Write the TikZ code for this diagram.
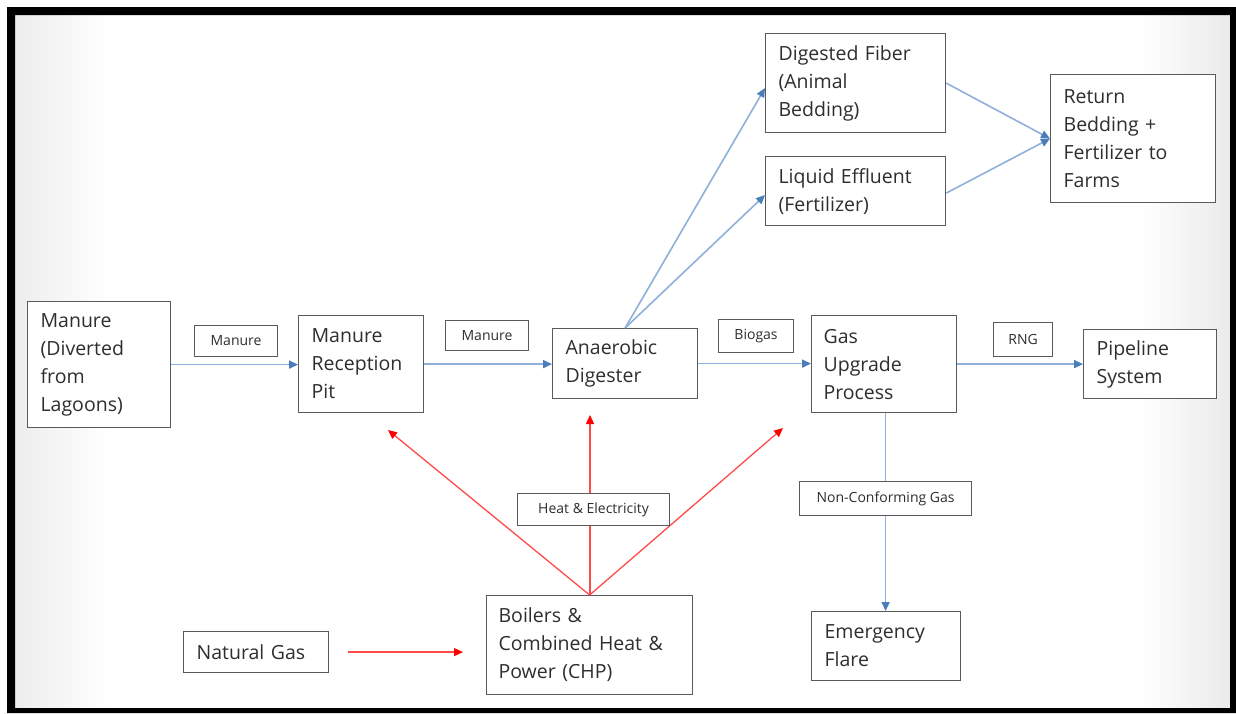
\documentclass[tikz,border=0pt]{standalone}
\usepackage{fontspec}
\setmainfont{Open Sans}
\usetikzlibrary{arrows.meta,calc}
\definecolor{bline}{HTML}{8FB0DA}
\definecolor{bhead}{HTML}{4A7EBB}
\definecolor{rline}{HTML}{FF4A4A}
\definecolor{boxline}{HTML}{5A5A5A}
\definecolor{txt}{HTML}{2E2E2E}
\tikzset{
  box/.style={draw=boxline, line width=1.2pt, fill=white, align=left, inner xsep=13pt, inner ysep=0pt,
    anchor=north west, text=txt, font=\fontsize{19.5}{28}\selectfont},
  lbl/.style={draw=boxline, line width=1.1pt, fill=white, align=center, inner sep=0pt,
    anchor=north west, text=txt, font=\fontsize{14}{17}\selectfont},
  barrow/.style={draw=bline, line width=1.6pt, -{Triangle[length=9pt,width=8pt,color=bhead]}},
  rarrow/.style={draw=rline, line width=1.3pt, -{Triangle[length=9pt,width=8pt,color=red]}}
}
\begin{document}
\begin{tikzpicture}[x=1pt,y=-1pt]
\useasboundingbox (0,0) rectangle (1236,713);
\fill[white] (0,0) rectangle (1236,713);
\shade[left color=black!7, right color=white] (15,15) rectangle (110,708);
\shade[left color=white, right color=black!8] (1140,15) rectangle (1230,708);
\fill[black, even odd rule] (7,7) rectangle (1236,713) (15,15) rectangle (1230,708);

% main boxes
\node[box, minimum height=126pt, text width=117pt] (src) at (27,301) {Manure\\(Diverted\\from\\Lagoons)};
\node[box, minimum height=97pt, text width=99pt] (pit) at (298,315) {Manure\\Reception\\Pit};
\node[box, minimum height=70pt, text width=119pt] (dig) at (552,328) {Anaerobic\\Digester};
\node[box, minimum height=97pt, inner xsep=12pt, text width=121pt] (gup) at (811,315) {Gas\\Upgrade\\Process};
\node[box, minimum height=69pt, text width=107pt] (pipe) at (1083,329) {Pipeline\\System};
\node[box, minimum height=99pt, text width=154pt] (fiber) at (765,33) {Digested Fiber\\(Animal\\Bedding)};
\node[box, minimum height=69pt, text width=154pt] (liq) at (765,156) {Liquid Effluent\\(Fertilizer)};
\node[box, minimum height=128pt, text width=139pt] (ret) at (1050,74) {Return\\Bedding +\\Fertilizer to\\Farms};
\node[box, minimum height=99pt, text width=182pt, inner xsep=12pt] (boil) at (486,595) {Boilers \&\\Combined Heat \&\\Power (CHP)};
\node[box, minimum height=41pt, text width=119pt] (ng) at (183,631) {Natural Gas};
\node[box, minimum height=69pt, text width=123pt] (flare) at (811,611) {Emergency\\Flare};

% red connectors
\coordinate (t1) at (388,430);
\coordinate (t2) at (590,415);
\coordinate (t3) at (783,428);
\draw[rarrow] (boil.north) -- (t1);
\draw[rarrow] (boil.north) -- (t3);
\draw[rarrow] (boil.north -| t2) -- (t2);
\draw[rarrow, shorten <=19pt, shorten >=23pt] (ng.east) -- (ng.east -| boil.west);

% blue connectors
\draw[barrow] (src.east) -- (src.east -| pit.west);
\draw[barrow] (pit.east) -- (pit.east -| dig.west);
\draw[barrow] (dig.east) -- (dig.east -| gup.west);
\draw[barrow] (gup.east) -- (gup.east -| pipe.west);
\draw[barrow] (dig.north) -- ($(fiber.west)+(0,5)$);
\draw[barrow] (dig.north) -- ($(liq.west)+(0,4)$);
\draw[barrow] (fiber.east) -- (ret.west);
\draw[barrow] ($(liq.east)+(0,2)$) -- (ret.west);
\draw[barrow] ($(gup.south)+(1.5,0)$) -- ($(flare.north)+(-0.5,0)$);

% labels
\node[lbl, minimum width=83pt, minimum height=31pt] (l1) at (194,325) {Manure};
\node[lbl, minimum width=83pt, minimum height=30pt] (l2) at (445,320) {Manure};
\node[lbl, minimum width=75pt, minimum height=33pt] (l3) at (718,319) {Biogas};
\node[lbl, minimum width=59pt, minimum height=34pt] (l4) at (993,322) {RNG};
\node[lbl, minimum width=152pt, minimum height=32pt] (l5) at (517,493) {Heat \& Electricity};
\node[lbl, minimum width=172pt, minimum height=34pt] (l6) at (799,481) {Non-Conforming Gas};
\end{tikzpicture}
\end{document}
